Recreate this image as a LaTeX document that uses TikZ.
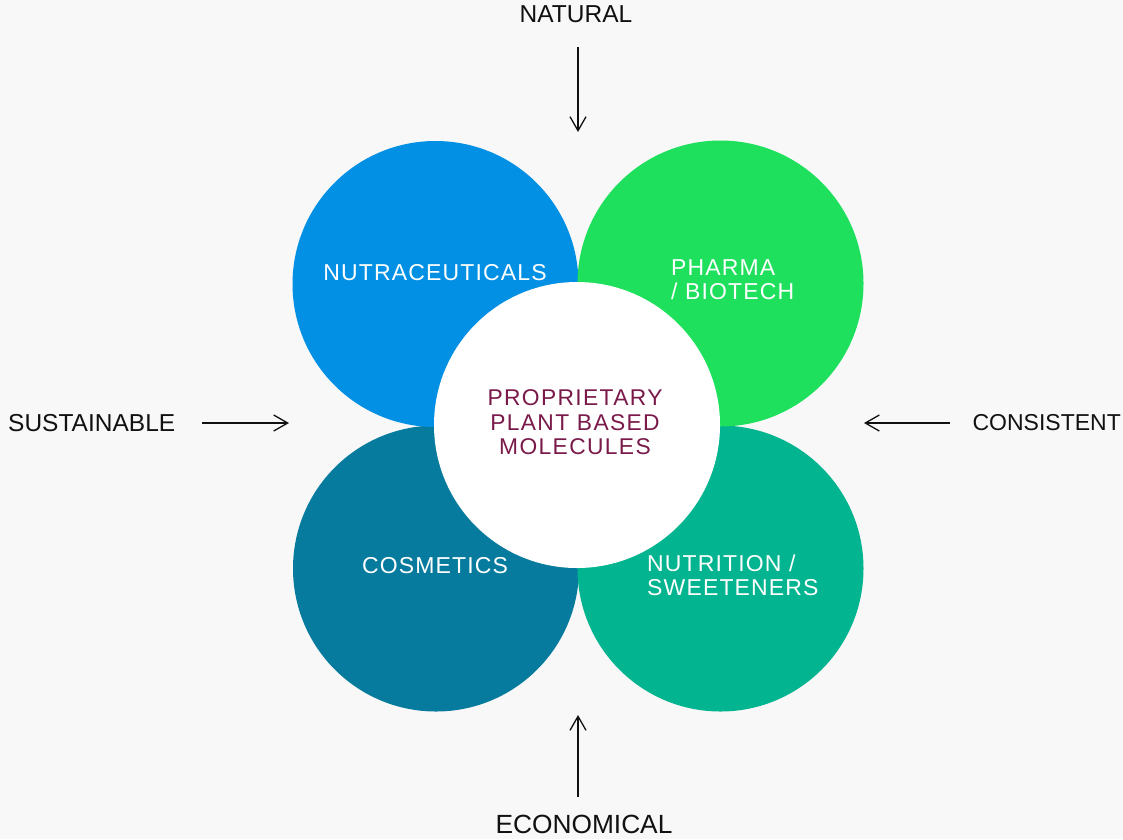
\documentclass[tikz,border=0pt]{standalone}
\usepackage{fontspec}
\setmainfont{Liberation Sans}
\newfontfamily\spacedfont{Liberation Sans}[LetterSpace=5]
\newfontfamily\corefont{Liberation Sans}[LetterSpace=6]
\usetikzlibrary{arrows.meta}
\definecolor{bgc}{HTML}{F8F8F8}
\definecolor{cblue}{HTML}{0290E5}
\definecolor{cgreen}{HTML}{1EE05C}
\definecolor{cteal}{HTML}{077B9E}
\definecolor{cmint}{HTML}{02B48F}
\definecolor{cmaroon}{HTML}{7A1A4A}
\definecolor{ctext}{HTML}{111111}
\begin{document}
\begin{tikzpicture}[x=1pt,y=-1pt,
  petal/.style={circle,minimum size=286pt,inner sep=0pt,draw=none},
  petaltext/.style={inner sep=0pt,text=white,font=\spacedfont\fontsize{23}{24}\selectfont},
  outertext/.style={inner sep=0pt,text=ctext,font=\fontsize{24.5}{26}\selectfont},
  centertext/.style={inner sep=0pt,text=cmaroon,align=center,font=\corefont\fontsize{22.8}{24.5}\selectfont},
  pointer/.style={draw=ctext,line width=1.3pt,-{Straight Barb[length=14pt,width=16pt]}}]
\fill[bgc] (0,0) rectangle (1123,839);
\useasboundingbox (0,0) rectangle (1123,839);
% petals
\node[petal,fill=cteal] (cosm) at (436,568.5) {};
\node[petal,fill=cmint] (nutr) at (720.5,568.5) {};
\node[petal,fill=cblue] (nutra) at (435.5,284) {};
\node[petal,fill=cgreen] (pharma) at (720.5,283.5) {};
\node[petal,fill=white] (core) at (577,425) {};
% petal labels
\node[petaltext] (lnutra) at (435,273) {NUTRACEUTICALS};
\node[petaltext,anchor=west,align=left] (lpharma) at (671,280) {PHARMA\\/ BIOTECH};
\node[petaltext] (lcosm) at (435,566) {COSMETICS};
\node[petaltext,anchor=west,align=left] (lnutr) at (647,575) {NUTRITION /\\SWEETENERS};
\node[centertext] (lcore) at (575,422.5) {PROPRIETARY\\PLANT BASED\\MOLECULES};
% outer labels
\node[outertext] (natural) at (576,14.5) {NATURAL};
\node[outertext,anchor=west] (sust) at (8,423) {SUSTAINABLE};
\node[outertext,anchor=east,font=\fontsize{23}{26}\selectfont] (cons) at (1121,423) {CONSISTENT};
\node[outertext,font=\fontsize{26.3}{28}\selectfont] (econ) at (584,824) {ECONOMICAL};
% arrow coordinates
\coordinate (tA) at (578,47);  \coordinate (tB) at (578,132);
\coordinate (lA) at (202,423); \coordinate (lB) at (289,423);
\coordinate (rA) at (950,423); \coordinate (rB) at (864,423);
\coordinate (bA) at (578,797); \coordinate (bB) at (578,715);
\draw[pointer] (tA) -- (tB);
\draw[pointer] (lA) -- (lB);
\draw[pointer] (rA) -- (rB);
\draw[pointer] (bA) -- (bB);
\end{tikzpicture}
\end{document}
